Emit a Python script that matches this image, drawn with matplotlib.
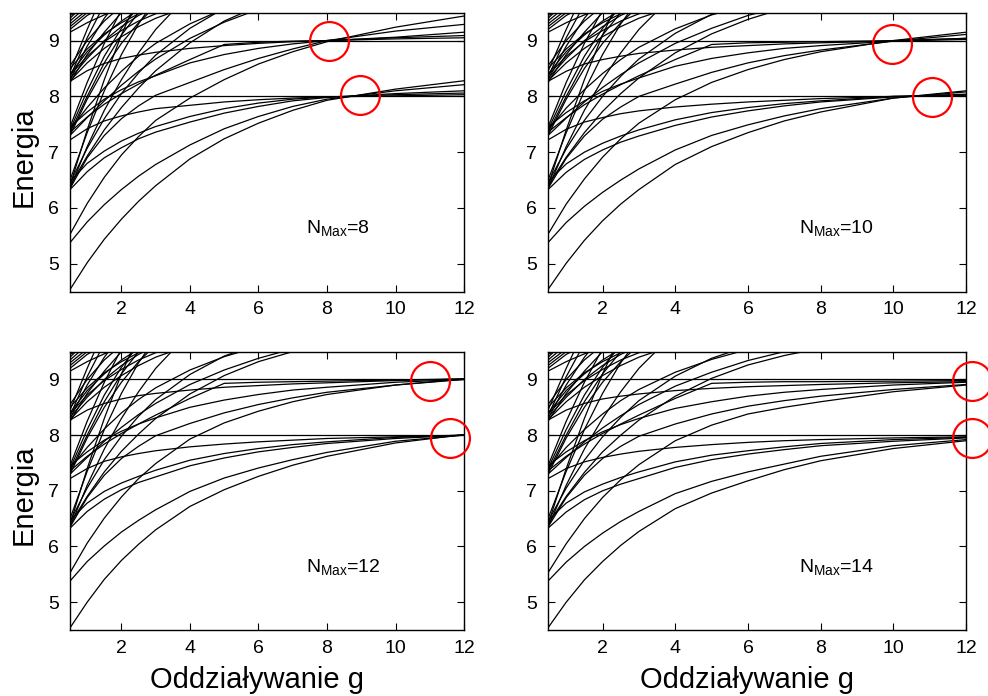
import matplotlib
matplotlib.use('Agg')
import matplotlib.pyplot as plt

plt.rcParams['font.family'] = ['Liberation Sans', 'DejaVu Sans']
plt.rcParams['mathtext.fontset'] = 'custom'
plt.rcParams['mathtext.rm'] = 'Liberation Sans'

# common g grid (coupling), values of each level read at these g
g_grid = [0.5, 1, 1.5, 2, 2.5, 3, 4, 5, 6, 7, 8, 10, 12]

nmax_values = [8, 10, 12, 14]
flat_levels = [8, 9]

# levels converging to 8 and 9 (depend on NMax)
levels_N8 = [
    [4.54, 5.02, 5.44, 5.80, 6.12, 6.40, 6.88, 7.24, 7.52, 7.75, 7.93, 8.13, 8.28],
    [5.38, 5.75, 6.06, 6.33, 6.57, 6.78, 7.13, 7.42, 7.64, 7.82, 7.95, 8.10, 8.21],
    [6.33, 6.65, 6.90, 7.08, 7.24, 7.36, 7.54, 7.70, 7.82, 7.92, 7.98, 8.05, 8.10],
    [6.47, 6.80, 7.02, 7.20, 7.34, 7.46, 7.64, 7.78, 7.88, 7.95, 7.99, 8.03, 8.06],
    [7.22, 7.42, 7.56, 7.65, 7.72, 7.78, 7.84, 7.90, 7.94, 7.97, 7.99, 8.01, 8.03],
    [5.53, 6.08, 6.55, 6.95, 7.28, 7.57, 7.97, 8.30, 8.58, 8.80, 8.98, 9.24, 9.44],
    [6.35, 6.90, 7.30, 7.60, 7.83, 8.02, 8.25, 8.48, 8.68, 8.85, 9.00, 9.17, 9.29],
    [7.36, 7.63, 7.86, 8.05, 8.22, 8.38, 8.66, 8.93, 8.97, 8.99, 9.00, 9.06, 9.15],
    [8.27, 8.46, 8.59, 8.68, 8.74, 8.79, 8.86, 8.91, 8.95, 8.98, 9.00, 9.03, 9.05],
    [7.45, 7.72, 7.95, 8.12, 8.26, 8.37, 8.60, 8.75, 8.86, 8.94, 9.00, 9.05, 9.09],
]
levels_N10 = [
    [4.54, 5.01, 5.42, 5.77, 6.07, 6.33, 6.78, 7.10, 7.35, 7.56, 7.72, 7.97, 8.10],
    [5.38, 5.74, 6.03, 6.28, 6.50, 6.70, 7.04, 7.30, 7.49, 7.65, 7.78, 7.97, 8.08],
    [6.33, 6.64, 6.87, 7.04, 7.18, 7.29, 7.48, 7.63, 7.74, 7.83, 7.90, 7.99, 8.04],
    [6.47, 6.79, 7.00, 7.16, 7.29, 7.40, 7.58, 7.71, 7.80, 7.87, 7.92, 8.00, 8.03],
    [7.22, 7.41, 7.54, 7.62, 7.69, 7.74, 7.81, 7.86, 7.90, 7.93, 7.96, 8.00, 8.02],
    [5.53, 6.07, 6.52, 6.91, 7.24, 7.52, 7.94, 8.25, 8.48, 8.66, 8.80, 9.00, 9.15],
    [6.35, 6.89, 7.29, 7.59, 7.81, 8.00, 8.22, 8.43, 8.60, 8.73, 8.83, 8.99, 9.11],
    [7.36, 7.62, 7.85, 8.04, 8.21, 8.37, 8.66, 8.93, 8.96, 8.97, 8.98, 9.00, 9.04],
    [8.27, 8.45, 8.58, 8.66, 8.72, 8.77, 8.83, 8.88, 8.91, 8.94, 8.96, 8.99, 9.02],
    [7.45, 7.71, 7.92, 8.09, 8.22, 8.33, 8.54, 8.68, 8.78, 8.86, 8.91, 8.99, 9.04],
]
levels_N12 = [
    [4.54, 5.00, 5.41, 5.75, 6.04, 6.30, 6.72, 7.02, 7.26, 7.46, 7.62, 7.86, 8.01],
    [5.38, 5.73, 6.01, 6.26, 6.47, 6.66, 6.99, 7.23, 7.41, 7.56, 7.69, 7.89, 8.00],
    [6.33, 6.63, 6.85, 7.02, 7.15, 7.25, 7.45, 7.59, 7.70, 7.78, 7.85, 7.94, 8.00],
    [6.47, 6.78, 6.99, 7.14, 7.26, 7.37, 7.55, 7.67, 7.76, 7.83, 7.88, 7.96, 8.00],
    [7.22, 7.40, 7.53, 7.61, 7.67, 7.72, 7.79, 7.84, 7.88, 7.91, 7.94, 7.97, 8.00],
    [5.53, 6.06, 6.51, 6.89, 7.22, 7.49, 7.93, 8.22, 8.43, 8.60, 8.73, 8.90, 9.01],
    [6.35, 6.88, 7.28, 7.58, 7.80, 7.99, 8.21, 8.40, 8.55, 8.67, 8.77, 8.90, 9.00],
    [7.36, 7.62, 7.84, 8.03, 8.20, 8.36, 8.66, 8.93, 8.95, 8.96, 8.97, 8.99, 9.01],
    [8.27, 8.45, 8.57, 8.65, 8.71, 8.75, 8.81, 8.86, 8.89, 8.92, 8.94, 8.98, 9.01],
    [7.45, 7.70, 7.91, 8.07, 8.20, 8.31, 8.50, 8.63, 8.73, 8.81, 8.86, 8.95, 9.00],
]
levels_N14 = [
    [4.54, 5.00, 5.40, 5.73, 6.02, 6.27, 6.68, 6.96, 7.18, 7.38, 7.54, 7.76, 7.90],
    [5.38, 5.72, 6.00, 6.24, 6.45, 6.63, 6.95, 7.17, 7.34, 7.48, 7.62, 7.81, 7.92],
    [6.33, 6.62, 6.84, 7.00, 7.12, 7.22, 7.42, 7.56, 7.66, 7.74, 7.81, 7.89, 7.95],
    [6.47, 6.78, 6.98, 7.12, 7.24, 7.34, 7.52, 7.64, 7.72, 7.79, 7.85, 7.92, 7.96],
    [7.22, 7.40, 7.52, 7.60, 7.66, 7.71, 7.78, 7.83, 7.87, 7.90, 7.92, 7.95, 7.97],
    [5.53, 6.05, 6.50, 6.88, 7.20, 7.47, 7.90, 8.18, 8.38, 8.50, 8.60, 8.78, 8.90],
    [6.35, 6.88, 7.28, 7.58, 7.80, 7.98, 8.20, 8.38, 8.52, 8.62, 8.70, 8.82, 8.91],
    [7.36, 7.62, 7.84, 8.03, 8.20, 8.36, 8.66, 8.93, 8.95, 8.96, 8.96, 8.97, 8.98],
    [8.27, 8.45, 8.57, 8.65, 8.70, 8.74, 8.80, 8.84, 8.87, 8.89, 8.91, 8.94, 8.96],
    [7.45, 7.70, 7.90, 8.06, 8.19, 8.30, 8.48, 8.60, 8.70, 8.77, 8.82, 8.90, 8.95],
]

# levels rising out of the window at medium g (depend on NMax)
rising_N8 = [
    [6.40, 6.93, 7.40, 7.80, 8.15, 8.46, 8.96, 9.35, 9.62],
    [7.30, 7.62, 7.92, 8.20, 8.45, 8.67, 9.04, 9.33, 9.56],
    [7.40, 7.80, 8.15, 8.45, 8.72, 8.95, 9.30, 9.57],
    [6.45, 7.07, 7.60, 8.05, 8.42, 8.74, 9.22, 9.58],
]
rising_N10 = [
    [6.40, 6.91, 7.35, 7.73, 8.05, 8.33, 8.78, 9.12, 9.38, 9.58],
    [7.30, 7.61, 7.90, 8.16, 8.39, 8.60, 8.95, 9.22, 9.45, 9.62],
    [7.40, 7.79, 8.12, 8.41, 8.66, 8.88, 9.21, 9.46, 9.64],
    [6.45, 7.06, 7.57, 8.00, 8.36, 8.67, 9.13, 9.47, 9.70],
]
rising_N12 = [
    [6.40, 6.90, 7.34, 7.71, 8.02, 8.30, 8.74, 9.07, 9.32, 9.50, 9.63],
    [7.30, 7.60, 7.89, 8.14, 8.37, 8.57, 8.91, 9.17, 9.38, 9.55],
    [7.40, 7.78, 8.11, 8.40, 8.64, 8.85, 9.17, 9.41, 9.59],
    [6.45, 7.05, 7.56, 7.98, 8.34, 8.64, 9.09, 9.42, 9.64],
]
rising_N14 = [
    [6.40, 6.90, 7.33, 7.70, 8.00, 8.27, 8.70, 9.02, 9.26, 9.43, 9.56, 9.75],
    [7.30, 7.60, 7.88, 8.13, 8.35, 8.55, 8.88, 9.13, 9.34, 9.50, 9.62],
    [7.40, 7.78, 8.10, 8.38, 8.62, 8.82, 9.13, 9.36, 9.54, 9.66],
    [6.45, 7.05, 7.55, 7.97, 8.32, 8.62, 9.06, 9.38, 9.60],
]

# steep levels leaving the window at small g (same in all panels)
steep_levels = [
    [6.35, 7.10, 7.75, 8.30, 8.78, 9.20, 9.85],
    [6.50, 7.35, 8.10, 8.75, 9.30, 9.75],
    [7.30, 7.95, 8.50, 8.95, 9.32, 9.62],
    [7.40, 8.10, 8.72, 9.22, 9.62],
    [7.45, 8.25, 8.95, 9.55],
    [7.35, 8.00, 8.60, 9.10, 9.50, 9.85],
    [6.40, 7.40, 8.30, 9.10, 9.80],
    [8.25, 8.75, 9.15, 9.50, 9.80],
    [8.30, 8.90, 9.40, 9.80],
    [8.35, 9.05, 9.65],
    [8.40, 8.80, 9.10, 9.35, 9.55],
    [8.45, 9.20, 9.90],
    [8.50, 8.85, 9.12, 9.32, 9.48, 9.60],
    [8.32, 8.68, 9.00, 9.25, 9.45, 9.60],
    [8.55, 9.00, 9.35, 9.62],
    [8.38, 8.72, 8.98, 9.18, 9.35, 9.48, 9.70],
    [8.28, 8.60, 8.86, 9.07, 9.25, 9.40, 9.62],
    [9.20, 9.45, 9.62],
    [9.30, 9.55],
    [9.40, 9.70],
    [9.15, 9.32, 9.46, 9.58],
    [9.45, 9.60],
    [9.35, 9.62],
    [9.25, 9.50, 9.70],
]

circles_g = [[8.05, 8.96], [9.95, 11.07], [11.0, 11.59], [12.17, 12.17]]
circles_E = [[9.0, 8.03], [8.94, 7.99], [8.98, 7.94], [8.98, 7.94]]

panel_levels = [levels_N8, levels_N10, levels_N12, levels_N14]
panel_rising = [rising_N8, rising_N10, rising_N12, rising_N14]

fig = plt.figure(figsize=(9.88, 6.96), dpi=100)
positions = [
    [0.0709, 0.5809, 0.3988, 0.4009],
    [0.5547, 0.5809, 0.4231, 0.4009],
    [0.0709, 0.0948, 0.3988, 0.4000],
    [0.5547, 0.0948, 0.4231, 0.4000],
]

for i, pos in enumerate(positions):
    ax = fig.add_axes(pos)
    for curve in panel_levels[i] + panel_rising[i] + steep_levels:
        ax.plot(g_grid[:len(curve)], curve, color='black', lw=0.9)
    for lev in flat_levels:
        ax.plot([g_grid[0], g_grid[-1]], [lev, lev], color='black', lw=0.9)
    ax.plot(circles_g[i], circles_E[i], 'o', ms=28, mfc='none', mec='red',
            mew=1.6, clip_on=False, zorder=5)
    ax.set_xlim(0.5, 12)
    ax.set_ylim(4.5, 9.5)
    ax.set_xticks([2, 4, 6, 8, 10, 12])
    ax.set_yticks([5, 6, 7, 8, 9])
    ax.tick_params(direction='in', top=True, right=True, length=5, width=0.8,
                   labelsize=14)
    ax.tick_params(axis='x', pad=7)
    ax.tick_params(axis='y', pad=8)
    for sp in ax.spines.values():
        sp.set_linewidth(1.0)
    ax.text(0.60, 0.21, r'$\mathregular{N_{Max}}$=%d' % nmax_values[i],
            transform=ax.transAxes, fontsize=14, va='baseline', ha='left')

fig.text(24 / 988, 1 - 157 / 696, 'Energia', rotation=90, fontsize=21,
         ha='center', va='center')
fig.text(24 / 988, 1 - 495 / 696, 'Energia', rotation=90, fontsize=21,
         ha='center', va='center')
fig.text(257 / 988, 8 / 696, 'Oddziaływanie g', fontsize=21, ha='center', va='baseline')
fig.text(747 / 988, 8 / 696, 'Oddziaływanie g', fontsize=21, ha='center', va='baseline')

fig.savefig('out.png', dpi=100)
